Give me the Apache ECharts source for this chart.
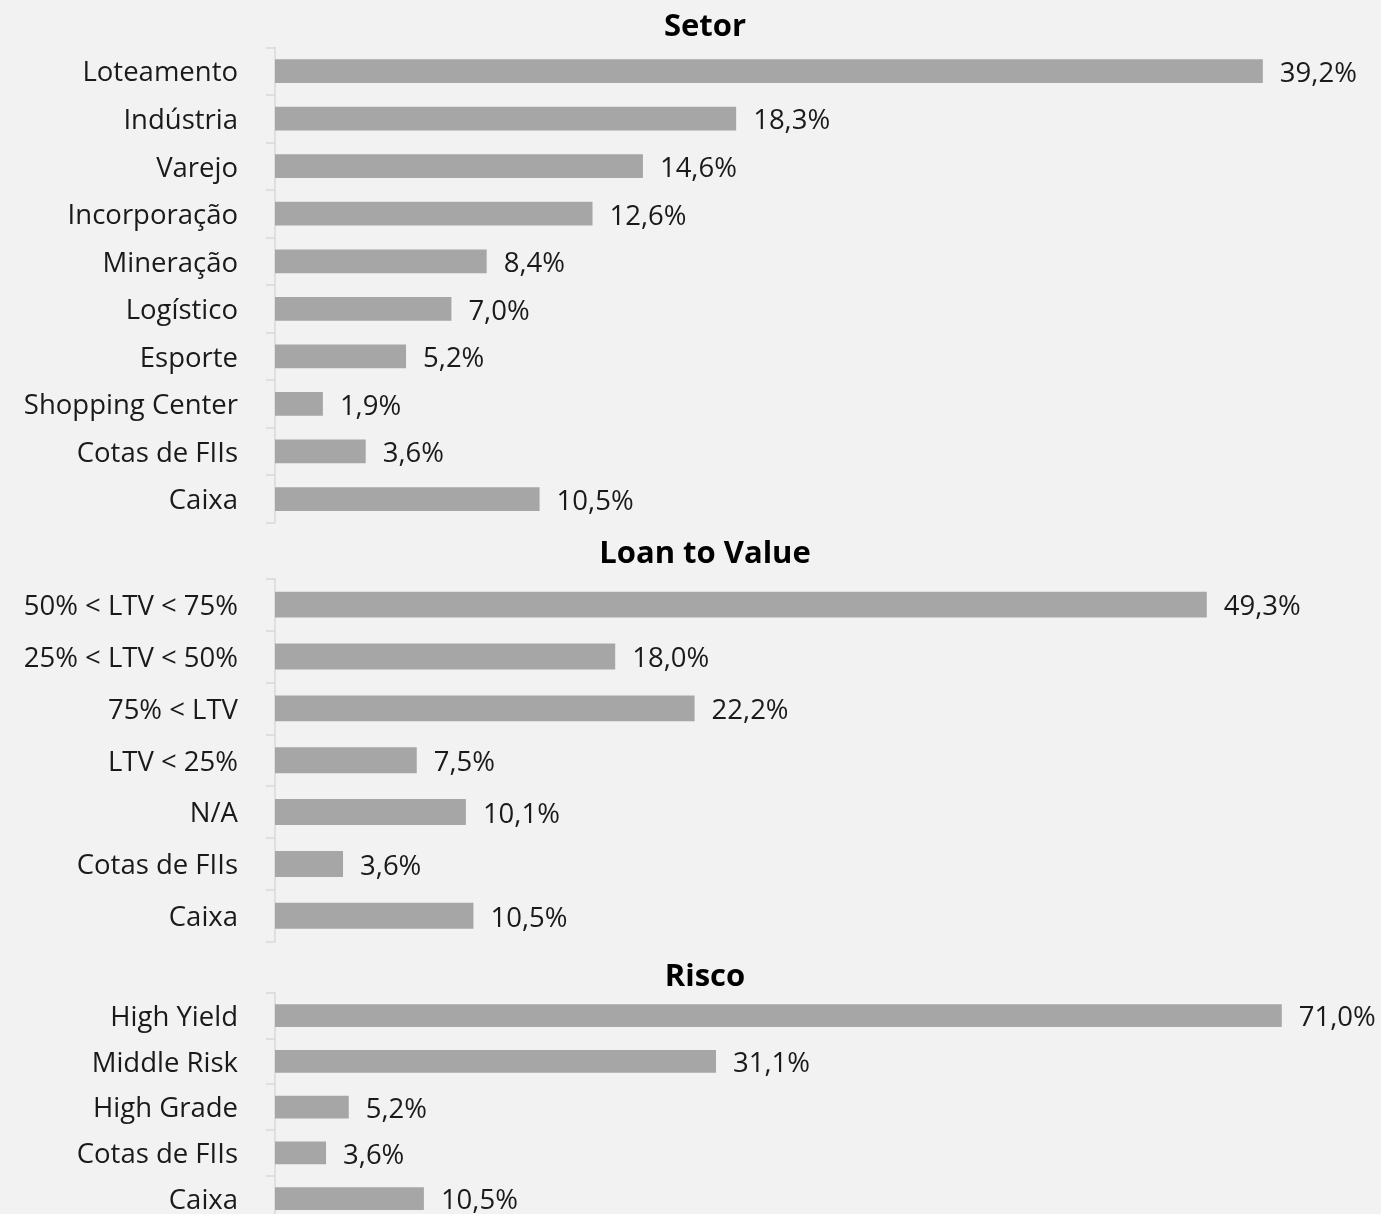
<!DOCTYPE html>
<html><head><meta charset="utf-8">
<style>html,body{margin:0;padding:0;background:#f2f2f2;overflow:hidden;}#c{width:1381px;height:1250px;}</style>
<script src="https://cdn.jsdelivr.net/npm/echarts@6/dist/echarts.min.js"></script>
</head><body><div id="c"></div>
<script>
var setorCategories = ['Loteamento','Indústria','Varejo','Incorporação','Mineração','Logístico','Esporte','Shopping Center','Cotas de FIIs','Caixa'];
var setorValues = [39.2,18.3,14.6,12.6,8.4,7.0,5.2,1.9,3.6,10.5];
var ltvCategories = ['50% < LTV < 75%','25% < LTV < 50%','75% < LTV','LTV < 25%','N/A','Cotas de FIIs','Caixa'];
var ltvValues = [49.3,18.0,22.2,7.5,10.1,3.6,10.5];
var riscoCategories = ['High Yield','Middle Risk','High Grade','Cotas de FIIs','Caixa'];
var riscoValues = [71.0,31.1,5.2,3.6,10.5];
var titles = ['Setor','Loan to Value','Risco'];

var FONT = 'Open Sans';
var chart = echarts.init(document.getElementById('c'));
function fmt(p){ return p.value.toFixed(1).replace('.', ',') + '%'; }
var grids = [
  {left:275, top:47.3, width:1008, height:475.5},
  {left:275, top:578.7, width:945, height:363},
  {left:275, top:992.7, width:1063.5, height:228.75}
];
var maxes = [40,50,75];
var cats = [setorCategories, ltvCategories, riscoCategories];
var vals = [setorValues, ltvValues, riscoValues];
var titleTops = [7, 534, 957];
var xAxis = [], yAxis = [], series = [], title = [];
for (var i=0;i<3;i++){
  xAxis.push({type:'value', gridIndex:i, min:0, max:maxes[i], show:false});
  yAxis.push({type:'category', gridIndex:i, data:cats[i], inverse:true,
    axisLine:{show:true, lineStyle:{color:'#d9d9d9', width:1.5}},
    axisTick:{show:true, length:9, lineStyle:{color:'#d9d9d9', width:1.5}},
    axisLabel:{color:'#1a1a1a', fontFamily:FONT, fontSize:27.5, margin:37,
      formatter:function(v){ return '{a|' + v + '}'; },
      rich:{a:{color:'#1a1a1a', fontFamily:FONT, fontSize:27.5, padding:[5,0,0,0]}}},
    splitLine:{show:false}});
  series.push({type:'bar', xAxisIndex:i, yAxisIndex:i, data:vals[i], barCategoryGap:'50%',
    itemStyle:{color:'#a6a6a6'},
    label:{show:true, position:'right', distance:17, offset:[0,3], formatter:fmt, color:'#1a1a1a', fontFamily:FONT, fontSize:27.5},
    silent:true, animation:false});
  title.push({text:titles[i], left:700, top:titleTops[i], textAlign:'center',
    textStyle:{fontFamily:FONT, fontWeight:'bold', fontSize:31, color:'#000'}});
}
chart.setOption({backgroundColor:'#f2f2f2', animation:false, title:title, grid:grids, xAxis:xAxis, yAxis:yAxis, series:series});
</script></body></html>
